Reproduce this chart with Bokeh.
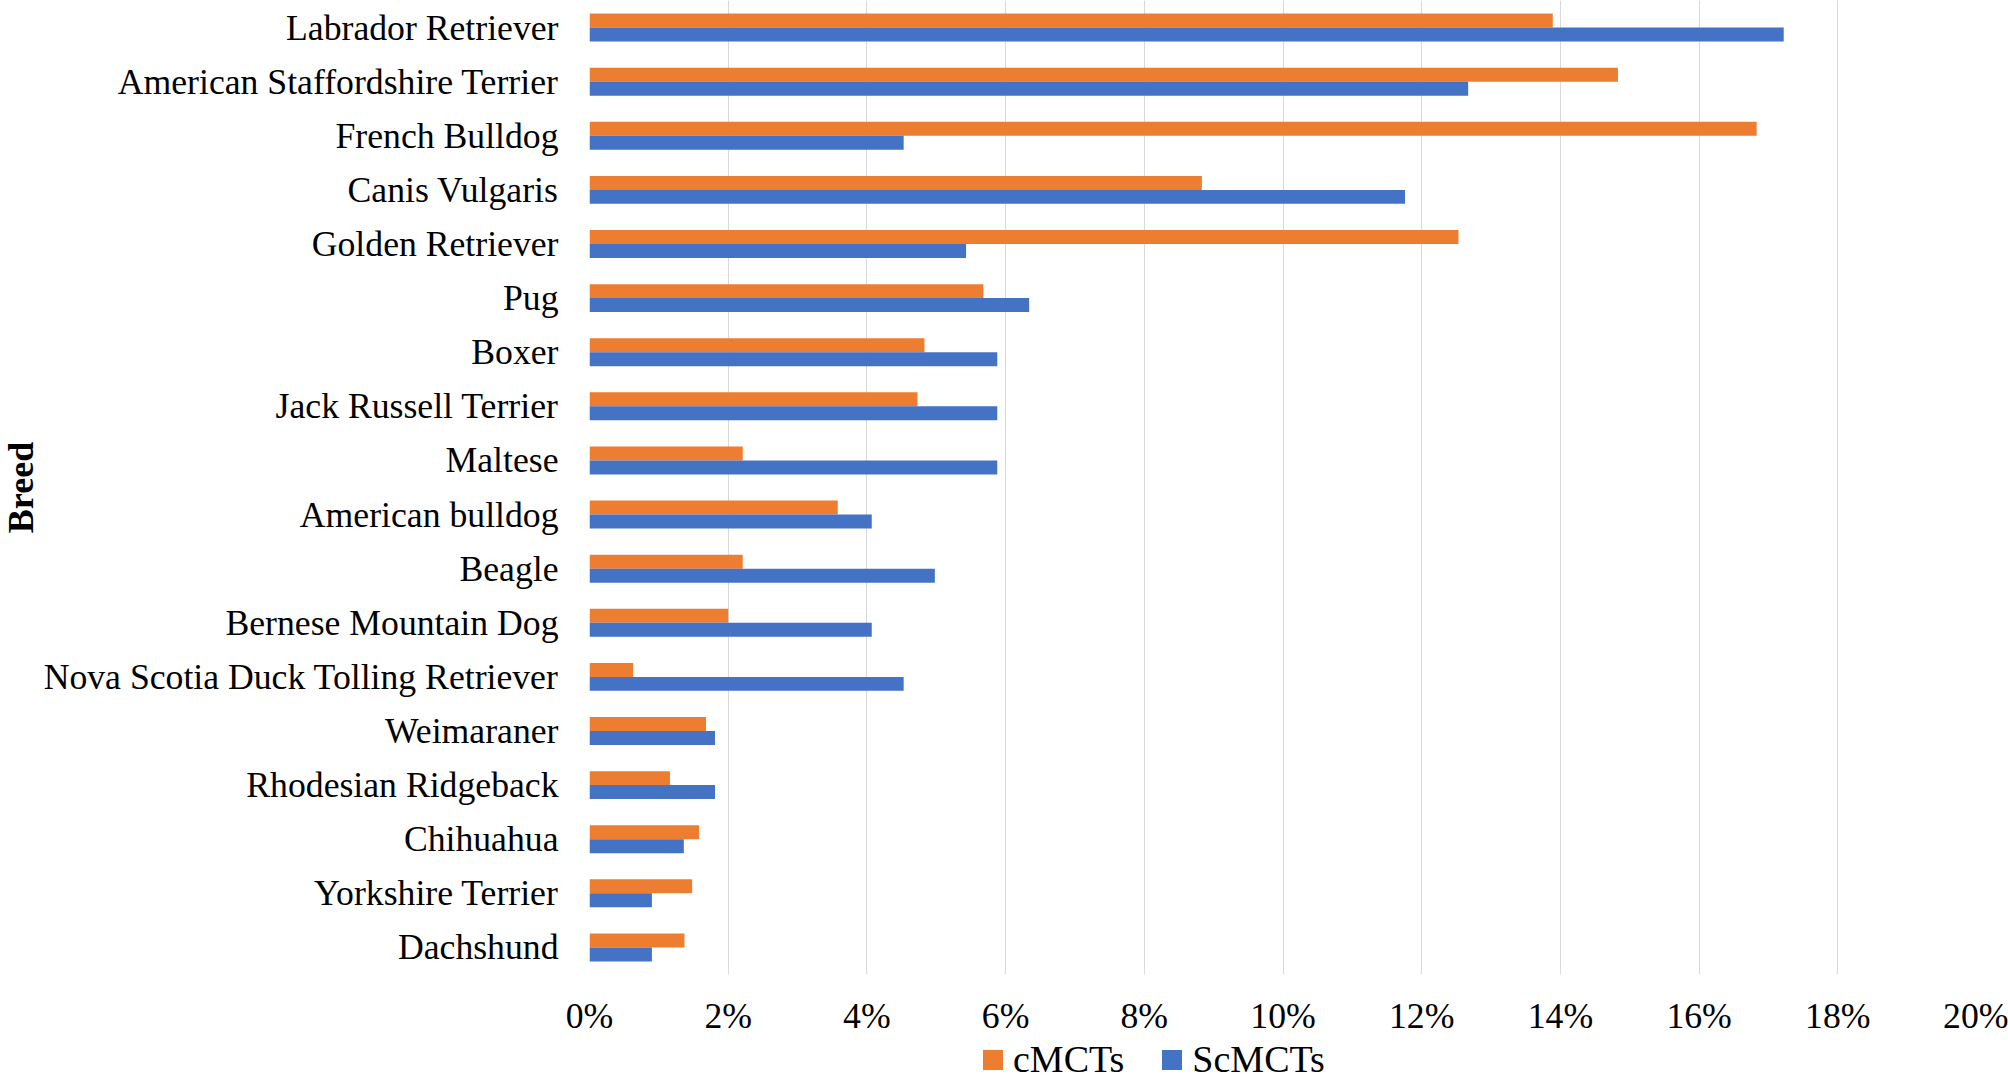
from bokeh.plotting import figure
from bokeh.layouts import column
from bokeh.models import (ColumnDataSource, Range1d, FactorRange, FixedTicker,
                          NumeralTickFormatter, Legend, LegendItem, Title)
from bokeh.transform import dodge
from bokeh.embed import file_html
from bokeh.resources import INLINE

# ---------------- data ----------------
breeds = [
    "Labrador Retriever", "American Staffordshire Terrier", "French Bulldog",
    "Canis Vulgaris", "Golden Retriever", "Pug", "Boxer", "Jack Russell Terrier",
    "Maltese", "American bulldog", "Beagle", "Bernese Mountain Dog",
    "Nova Scotia Duck Tolling Retriever", "Weimaraner", "Rhodesian Ridgeback",
    "Chihuahua", "Yorkshire Terrier", "Dachshund",
]
cmcts_pct = [13.89, 14.83, 16.83, 8.83, 12.53, 5.68, 4.83, 4.73, 2.21, 3.58,
             2.21, 2.00, 0.63, 1.68, 1.16, 1.58, 1.48, 1.37]
scmcts_pct = [17.22, 12.67, 4.53, 11.76, 5.43, 6.34, 5.88, 5.88, 5.88, 4.07,
              4.98, 4.07, 4.53, 1.81, 1.81, 1.36, 0.90, 0.90]
x_ticks = [0.00, 0.02, 0.04, 0.06, 0.08, 0.10, 0.12, 0.14, 0.16, 0.18, 0.20]
series_names = ["cMCTs", "ScMCTs"]
axis_title = "Breed"

ORANGE = "#ED7D31"
BLUE = "#4472C4"
GRID = "#D9D9D9"
FONT = "Liberation Serif"

src = ColumnDataSource(dict(
    breed=breeds,
    c=[v / 100 for v in cmcts_pct],
    s=[v / 100 for v in scmcts_pct],
))

W = 2008
MAIN_H, LEG_H = 1038, 43
LEFT, RIGHT, TOP, BOTTOM = 589, 32, 0, 62
frame_h = MAIN_H - TOP - BOTTOM
band_px = frame_h / len(breeds)

p = figure(width=W, height=MAIN_H, output_backend="svg", toolbar_location=None,
           x_range=Range1d(0, 0.20),
           y_range=FactorRange(factors=breeds[::-1], range_padding=0),
           min_border_left=LEFT, min_border_right=RIGHT,
           min_border_top=TOP, min_border_bottom=BOTTOM)
p.outline_line_color = None
p.background_fill_color = "white"
p.border_fill_color = "white"

bar_h = 14 / band_px
p.hbar(y=dodge("breed", bar_h / 2, range=p.y_range), left=0, right="c",
       height=bar_h, fill_color=ORANGE, line_color=None, source=src)
p.hbar(y=dodge("breed", -bar_h / 2, range=p.y_range), left=0, right="s",
       height=bar_h, fill_color=BLUE, line_color=None, source=src)

# x axis
xt = FixedTicker(ticks=x_ticks)
p.xaxis.ticker = xt
p.xaxis.formatter = NumeralTickFormatter(format="0%")
p.xaxis.axis_line_color = None
p.xaxis.major_tick_line_color = None
p.xaxis.minor_tick_line_color = None
p.xaxis.major_tick_out = 0
p.xaxis.major_tick_in = 0
p.xaxis.major_label_standoff = 21
p.xaxis.major_label_text_font = FONT
p.xaxis.major_label_text_font_size = "35.7px"
p.xaxis.major_label_text_color = "black"

# y axis
p.yaxis.axis_line_color = None
p.yaxis.major_tick_line_color = None
p.yaxis.minor_tick_line_color = None
p.yaxis.major_tick_out = 0
p.yaxis.major_tick_in = 0
p.yaxis.major_label_standoff = 31
p.yaxis.major_label_text_font = FONT
p.yaxis.major_label_text_font_size = "35.7px"
p.yaxis.major_label_text_color = "black"

# y-axis title as a side-panel title
p.add_layout(Title(text=axis_title, align="center", vertical_align="top",
                   standoff=-4, text_font=FONT, text_font_size="36px",
                   text_font_style="bold", text_color="black"), "left")

p.xgrid.ticker = xt
p.xgrid.grid_line_color = GRID
p.xgrid.grid_line_width = 1
p.ygrid.visible = False

# ---------------- legend strip (frame aligned with the main plot) ----------------
lf = figure(width=W, height=LEG_H, output_backend="svg", toolbar_location=None,
            x_axis_location=None, y_axis_location=None,
            x_range=Range1d(0, 1), y_range=Range1d(0, 1),
            min_border_left=0, min_border_right=0,
            min_border_top=0, min_border_bottom=0)
lf.outline_line_color = None
lf.grid.visible = False
lf.background_fill_color = "white"
lf.border_fill_color = "white"
# zero-size key renderers: they only supply the legend swatches
key_src = ColumnDataSource(dict(y=[0.5], v=[0.0]))
g1 = lf.hbar(y="y", left="v", right="v", height=0, fill_color=ORANGE,
             line_color=None, source=key_src)
g2 = lf.hbar(y="y", left="v", right="v", height=0, fill_color=BLUE,
             line_color=None, source=key_src)

legend = Legend(items=[LegendItem(label=series_names[0], renderers=[g1]),
                       LegendItem(label=series_names[1], renderers=[g2])],
                orientation="horizontal", location=(391, 0),
                glyph_width=25, glyph_height=25, label_standoff=8, spacing=35,
                label_height=20, padding=0, margin=0, border_line_color=None,
                background_fill_alpha=0, label_text_font=FONT,
                label_text_font_size="38px", label_text_color="black")
lf.add_layout(legend, "center")

layout = column(p, lf, spacing=0)
open("out.html", "w").write(file_html(layout, INLINE))
